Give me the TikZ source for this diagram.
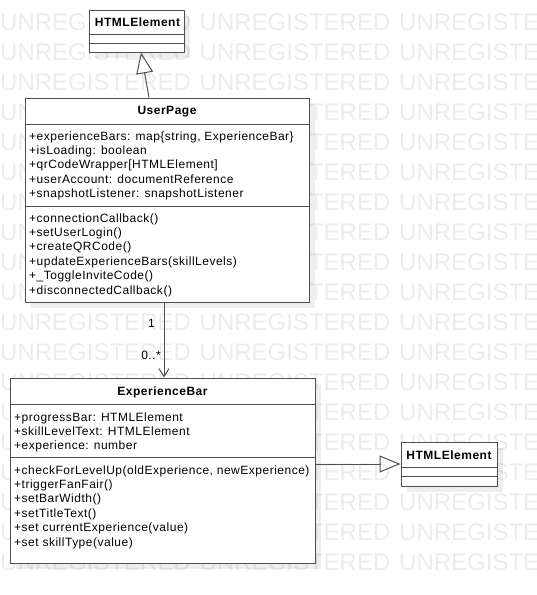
\documentclass[tikz,border=0pt]{standalone}
\usepackage{fontspec}
\setmainfont{Liberation Sans}[LetterSpace=4.2]
\newfontfamily\wmfont{Liberation Sans}
\usetikzlibrary{arrows.meta,calc}
\definecolor{wm}{RGB}{236,236,236}
\definecolor{bord}{RGB}{80,80,80}
\tikzset{
  umlbox/.style={draw=bord, line width=1pt, fill=white, inner sep=0pt, rectangle},
  divider/.style={draw=bord, line width=1pt},
  shadowbox/.style={fill=black, fill opacity=0.065, draw=none},
  txt/.style={anchor=base west, inner sep=0pt, font=\fontsize{12}{14.4}\selectfont},
  hdr/.style={anchor=base, inner sep=0pt, font=\fontsize{12}{14.4}\selectfont\bfseries},
  lbl/.style={anchor=base east, inner sep=0pt, font=\fontsize{12}{14.4}\selectfont},
  wmtxt/.style={anchor=base west, inner sep=0pt, text=wm, font=\wmfont\fontsize{24}{24}\selectfont},
  gen/.style={draw=bord, line width=1pt, -{Triangle[open, length=21pt, width=17pt, line width=1pt]}},
  assoc/.style={draw=bord, line width=1pt, -{Straight Barb[length=8pt, width=10pt, line width=1pt]}},
}
\begin{document}
\begin{tikzpicture}[x=1pt,y=-1pt]
\useasboundingbox (0,0) rectangle (537,595);
% watermark
\foreach \r in {1,...,19} {
  \node[wmtxt] (wa\r) at (0,30*\r) {UNREGISTERED};
  \node[wmtxt] (wb\r) at (199.5,30*\r) {UNREGISTERED};
  \node[wmtxt] (wc\r) at (399,30*\r) {UNREGISTERED};
}
% shadows
\fill[shadowbox] (95,16) rectangle (190,58);
\fill[shadowbox] (31,104) rectangle (315,308);
\fill[shadowbox] (16,384) rectangle (321,569);
\fill[shadowbox] (407,448) rectangle (503,492);
% boxes
\node[umlbox, minimum width=95pt, minimum height=42pt] (H1) at (136.5,31) {};
\node[umlbox, minimum width=284pt, minimum height=204pt] (UP) at (167,200) {};
\node[umlbox, minimum width=305pt, minimum height=185pt] (EB) at (162.5,470.5) {};
\node[umlbox, minimum width=96pt, minimum height=44pt] (H2) at (449,464) {};
% dividers
\draw[divider] (H1.west |- 0,34) -- (H1.east |- 0,34);
\draw[divider] (H1.west |- 0,43) -- (H1.east |- 0,43);
\draw[divider] (UP.west |- 0,124) -- (UP.east |- 0,124);
\draw[divider] (UP.west |- 0,206) -- (UP.east |- 0,206);
\draw[divider] (EB.west |- 0,404) -- (EB.east |- 0,404);
\draw[divider] (EB.west |- 0,457) -- (EB.east |- 0,457);
\draw[divider] (H2.west |- 0,467) -- (H2.east |- 0,467);
\draw[divider] (H2.west |- 0,476) -- (H2.east |- 0,476);
% headers
\node[hdr] (H1t) at (137.5,26.5) {HTMLElement};
\node[hdr] (H2t) at (449,459.5) {HTMLElement};
\node[hdr] (UPt) at (167,114.5) {UserPage};
\node[hdr] (EBt) at (162.5,395.5) {ExperienceBar};
% UserPage attributes
\node[txt] (ua1) at (29,140) {+experienceBars: map\{string, ExperienceBar\}};
\node[txt] (ua2) at (29,154.4) {+isLoading: boolean};
\node[txt] (ua3) at (29,168.8) {+qrCodeWrapper[HTMLElement]};
\node[txt] (ua4) at (29,183.2) {+userAccount: documentReference};
\node[txt] (ua5) at (29,197.6) {+snapshotListener: snapshotListener};
% UserPage methods
\node[txt] (um1) at (29,222) {+connectionCallback()};
\node[txt] (um2) at (29,236.4) {+setUserLogin()};
\node[txt] (um3) at (29,250.8) {+createQRCode()};
\node[txt] (um4) at (29,265.2) {+updateExperienceBars(skillLevels)};
\node[txt] (um5) at (29,279.6) {+\_ToggleInviteCode()};
\node[txt] (um6) at (29,294) {+disconnectedCallback()};
% ExperienceBar attributes
\node[txt] (ea1) at (14,421) {+progressBar: HTMLElement};
\node[txt] (ea2) at (14,435.4) {+skillLevelText: HTMLElement};
\node[txt] (ea3) at (14,449.8) {+experience: number};
% ExperienceBar methods
\node[txt] (em1) at (14,474) {+checkForLevelUp(oldExperience, newExperience)};
\node[txt] (em2) at (14,488.4) {+triggerFanFair()};
\node[txt] (em3) at (14,502.8) {+setBarWidth()};
\node[txt] (em4) at (14,517.2) {+setTitleText()};
\node[txt] (em5) at (14,531.6) {+set currentExperience(value)};
\node[txt] (em6) at (14,546) {+set skillType(value)};
% connectors
\coordinate (g1) at (149,0);
\coordinate (g2) at (141,0);
\draw[gen] (UP.north -| g1) -- (H1.south -| g2);
\coordinate (a1) at (164,0);
\draw[assoc] (UP.south -| a1) -- (EB.north -| a1);
\node[lbl] (m1) at (155,327.5) {1};
\node[lbl] (m2) at (161,359.5) {0..*};
\draw[gen] (EB.east |- H2.west) -- (H2.west);
\end{tikzpicture}
\end{document}
